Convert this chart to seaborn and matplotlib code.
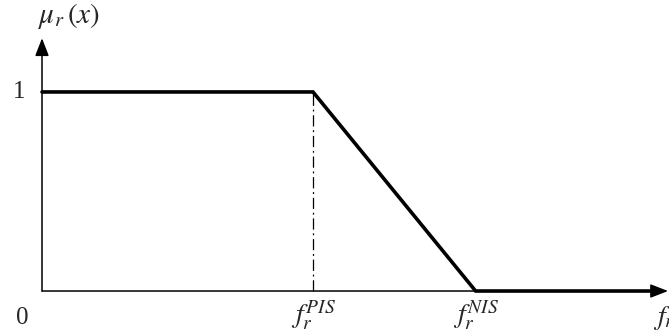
import matplotlib
matplotlib.use("Agg")
import matplotlib.pyplot as plt
import seaborn as sns
import pandas as pd

sns.set_theme(style="white")
plt.rcParams["mathtext.fontset"] = "stix"
plt.rcParams["font.family"] = ["Liberation Serif", "DejaVu Serif"]

# Membership function breakpoints: full membership up to PIS, linear decay to NIS
x_points = [0.0, 5.0, 8.0, 11.4]
mu_points = [1.0, 1.0, 0.0, 0.0]
pis_x = 5.0
nis_x = 8.0
tick_labels = [r"$f_r^{PIS}$", r"$f_r^{NIS}$"]

df = pd.DataFrame({"x": x_points, "mu": mu_points})

fig = plt.figure(figsize=(6.69, 3.36), dpi=100)
ax = fig.add_axes([0, 0, 1, 1])
ax.set_xlim(-0.775, 11.568)
ax.set_ylim(-0.226, 1.462)
ax.axis("off")

sns.lineplot(data=df, x="x", y="mu", ax=ax, color="black", linewidth=2.6,
             sort=False, estimator=None, solid_joinstyle="miter")

# Vertical dash-dot guide at PIS
ax.plot([pis_x, pis_x], [0, 1], color="black", linewidth=0.9,
        linestyle=(0, (9, 3, 1.5, 3)))

# Axes with arrow heads
ax.annotate("", xy=(11.55, 0), xytext=(0, 0),
            arrowprops=dict(arrowstyle="-|>,head_length=0.9,head_width=0.35",
                            color="black", lw=1.1, shrinkA=0, shrinkB=0))
ax.annotate("", xy=(0, 1.27), xytext=(0, 0),
            arrowprops=dict(arrowstyle="-|>,head_length=0.9,head_width=0.35",
                            color="black", lw=1.1, shrinkA=0, shrinkB=0))

# Axis labels
ax.text(-0.42, 1.0, "1", fontsize=18, ha="center", va="center")
ax.text(-0.36, -0.135, "0", fontsize=18, ha="center", va="center")
for xv, lab in zip([pis_x, nis_x], tick_labels):
    ax.text(xv, -0.125, lab, fontsize=20, ha="center", va="center")
ax.text(11.27, -0.135, r"$f_r$", fontsize=20, ha="left", va="center")
ax.text(-0.07, 1.38, r"$\mu_r\,\left(x\right)$", fontsize=21, ha="left", va="center")

fig.savefig("out.png", dpi=100)
